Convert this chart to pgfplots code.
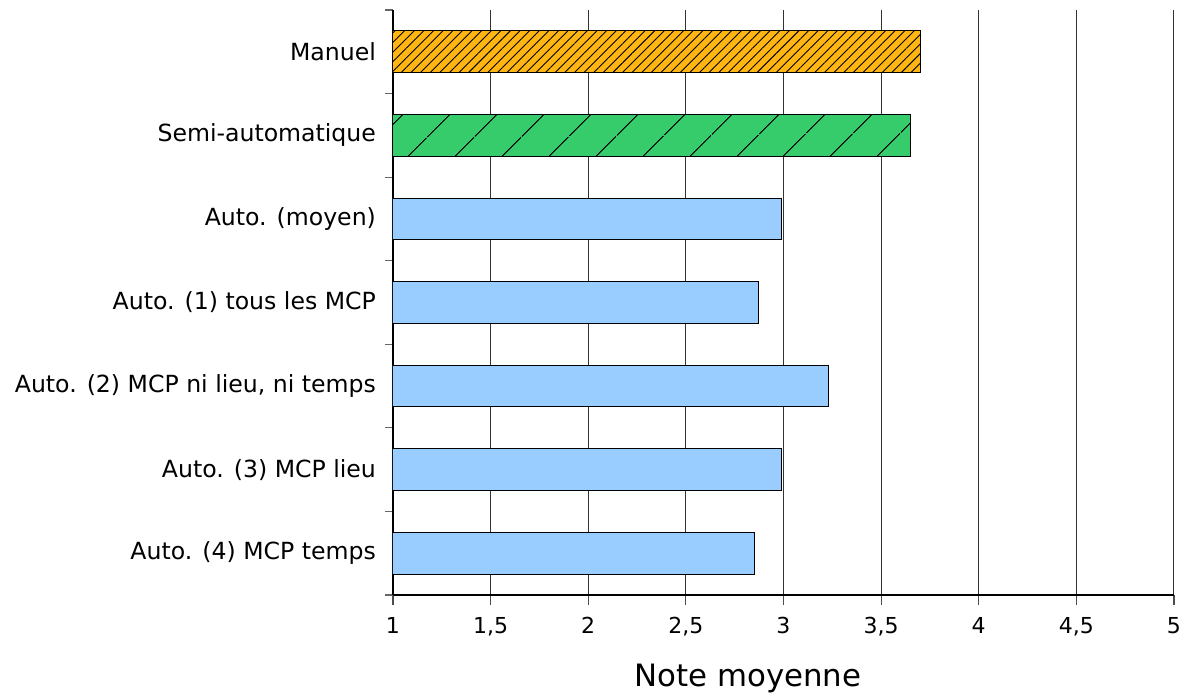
\documentclass[border=0pt]{standalone}
\usepackage{fontspec}
\setmainfont{DejaVu Sans}
\usepackage{pgfplots}
\pgfplotsset{compat=1.18}
\usetikzlibrary{patterns.meta}
\definecolor{cOrange}{HTML}{FFB612}
\definecolor{cGreen}{HTML}{37CC6B}
\definecolor{cBlue}{HTML}{99CCFF}
\begin{document}
\begin{tikzpicture}
\begin{axis}[
  at={(0,0)}, anchor=south west,
  scale only axis, width=390.5pt, height=292.5pt,
  xbar, bar width=0.5,
  xmin=1, xmax=5, ymin=-0.5, ymax=6.5,
  axis x line*=bottom, axis y line*=left,
  axis line style={black, line width=0.6pt},
  xtick={1,1.5,2,2.5,3,3.5,4,4.5,5},
  xticklabels={1,{1,5},2,{2,5},3,{3,5},4,{4,5},5},
  ytick={0,1,2,3,4,5,6},
  yticklabels={Auto. (4) MCP temps, Auto. (3) MCP lieu, {Auto. (2) MCP ni lieu, ni temps}, Auto. (1) tous les MCP, Auto. (moyen), Semi-automatique, Manuel},
  minor ytick={-0.5,0.5,1.5,2.5,3.5,4.5,5.5,6.5},
  tick align=outside,
  major tick length=5pt, minor tick length=4pt,
  major y tick style={draw=none},
  minor y tick style={black!60, line width=0.6pt},
  major x tick style={black!70, line width=0.6pt},
  xmajorgrids, grid style={black!80, line width=0.5pt},
  yticklabel style={font=\fontsize{11.8}{14}\selectfont},
  xticklabel style={font=\fontsize{11}{13}\selectfont, yshift=-2.5pt},
  xlabel={Note moyenne},
  xlabel style={font=\fontsize{15.4}{18}\selectfont, at={(axis description cs:0.4545,0)}, anchor=base, yshift=-46pt},
]
\addplot[bar shift=0pt, fill=cBlue, draw=black, line width=0.5pt] coordinates {(2.85,0) (2.99,1) (3.23,2) (2.87,3) (2.99,4)};
\addplot[bar shift=0pt, fill=cGreen, draw=black, line width=0.5pt, postaction={pattern={Lines[angle=45,distance=17pt,line width=0.5pt]}, pattern color=black}] coordinates {(3.65,5)};
\addplot[bar shift=0pt, fill=cOrange, draw=black, line width=0.5pt, postaction={pattern={Lines[angle=45,distance=3.4pt,line width=0.45pt]}, pattern color=black}] coordinates {(3.70,6)};
\end{axis}
\pgfresetboundingbox
\path (-196.5pt,-50pt) rectangle (399pt,297.5pt);
\end{tikzpicture}
\end{document}
